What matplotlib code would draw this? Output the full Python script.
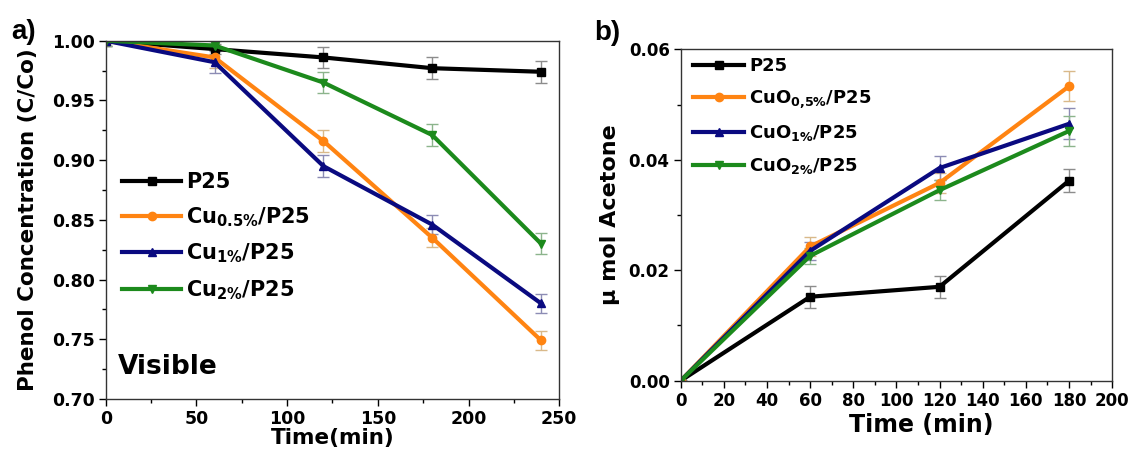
import numpy as np
import matplotlib
matplotlib.use("Agg")
import matplotlib.pyplot as plt
from matplotlib.ticker import MultipleLocator

# ── Fonts ────────────────────────────────────────────────────────
plt.rcParams["font.family"] = ["DejaVu Sans"]
plt.rcParams["font.weight"] = "bold"
plt.rcParams["mathtext.fontset"] = "dejavusans"
plt.rcParams["mathtext.default"] = "bf"

# ── Phenol degradation under visible light (panel a) ─────────────
time_a = [0, 60, 120, 180, 240]
p25_a = [1.000, 0.993, 0.986, 0.977, 0.974]
cu05_a = [1.000, 0.986, 0.916, 0.835, 0.749]
cu1_a = [1.000, 0.982, 0.895, 0.846, 0.780]
cu2_a = [1.000, 0.996, 0.965, 0.921, 0.830]
p25_a_err = [0.004, 0.004, 0.009, 0.009, 0.009]
cu05_a_err = [0.004, 0.009, 0.009, 0.008, 0.008]
cu1_a_err = [0.004, 0.009, 0.009, 0.008, 0.008]
cu2_a_err = [0.004, 0.004, 0.009, 0.009, 0.009]
labels_a = ["P25", r"Cu$_{0.5\%}$/P25", r"Cu$_{1\%}$/P25", r"Cu$_{2\%}$/P25"]

# ── Acetone evolution (panel b) ──────────────────────────────────
time_b = [0, 60, 120, 180]
p25_b = [0.0, 0.0152, 0.0170, 0.0362]
cuo05_b = [0.0, 0.0243, 0.0358, 0.0533]
cuo1_b = [0.0, 0.0235, 0.0385, 0.0465]
cuo2_b = [0.0, 0.0226, 0.0345, 0.0452]
p25_b_err = [0.0, 0.0020, 0.0020, 0.0021]
cuo05_b_err = [0.0, 0.0017, 0.0018, 0.0027]
cuo1_b_err = [0.0, 0.0017, 0.0022, 0.0028]
cuo2_b_err = [0.0, 0.0015, 0.0018, 0.0027]
labels_b = ["P25", r"CuO$_{0{,}5\%}$/P25", r"CuO$_{1\%}$/P25",
            r"CuO$_{2\%}$/P25"]

colors = ["#000000", "#ff8412", "#0a0a80", "#1c8a1c"]
err_colors = ["#8c8c8c", "#d9b98a", "#8c8cb4", "#8cb48c"]
markers = ["s", "o", "^", "v"]

fig = plt.figure(figsize=(11.28, 4.53), dpi=100)
ax_a = fig.add_axes([0.0937, 0.1192, 0.4021, 0.7909])
ax_b = fig.add_axes([0.6035, 0.1596, 0.3824, 0.7316])


def draw_series(ax, x, ys, errs):
    # errorbar per series; return only the data lines for the legend
    handles = []
    for y, e, c, ec, m in zip(ys, errs, colors, err_colors, markers):
        cont = ax.errorbar(x, y, yerr=e, color=c, ecolor=ec, elinewidth=1.0,
                           capsize=4, capthick=1.0, marker=m, markersize=6,
                           linewidth=3)
        handles.append(cont[0])
    return handles


def style_axes(ax, size):
    for sp in ax.spines.values():
        sp.set_linewidth(1.0)
        sp.set_color("#333333")
    ax.tick_params(which="major", direction="out", length=5, width=1.0,
                   labelsize=size, pad=3, top=False, right=False)
    ax.tick_params(which="minor", direction="out", length=3, width=1.0,
                   top=False, right=False)
    for lab in ax.get_xticklabels() + ax.get_yticklabels():
        lab.set_fontweight("bold")


# panel a
h_a = draw_series(ax_a, time_a, [p25_a, cu05_a, cu1_a, cu2_a],
                  [p25_a_err, cu05_a_err, cu1_a_err, cu2_a_err])
ax_a.set_xlim(0, 250)
ax_a.set_ylim(0.70, 1.00)
ax_a.xaxis.set_major_locator(MultipleLocator(50))
ax_a.xaxis.set_minor_locator(MultipleLocator(25))
ax_a.yaxis.set_major_locator(MultipleLocator(0.05))
ax_a.yaxis.set_minor_locator(MultipleLocator(0.025))
ax_a.yaxis.set_major_formatter(lambda v, p: f"{v:.2f}")
style_axes(ax_a, 12.5)
ax_a.set_xlabel("Time(min)", fontsize=15.5, fontweight="bold", labelpad=0)
ax_a.set_ylabel("Phenol Concentration (C/Co)", fontsize=15.5,
                fontweight="bold", labelpad=10)
ax_a.text(0.027, 0.07, "Visible", transform=ax_a.transAxes, fontsize=19,
          fontweight="bold", ha="left", va="baseline")
ax_a.legend(h_a, labels_a, loc="upper left", bbox_to_anchor=(0.0, 0.68),
            frameon=False, fontsize=15, handlelength=2.8, handletextpad=0.25,
            labelspacing=0.62, borderaxespad=0.4)
fig.text(0.010, 0.914, "a)", fontsize=20, fontweight="bold",
         family="Liberation Sans")

# panel b
h_b = draw_series(ax_b, time_b, [p25_b, cuo05_b, cuo1_b, cuo2_b],
                  [p25_b_err, cuo05_b_err, cuo1_b_err, cuo2_b_err])
ax_b.set_xlim(0, 200)
ax_b.set_ylim(0.0, 0.06)
ax_b.xaxis.set_major_locator(MultipleLocator(20))
ax_b.xaxis.set_minor_locator(MultipleLocator(10))
ax_b.yaxis.set_major_locator(MultipleLocator(0.02))
ax_b.yaxis.set_minor_locator(MultipleLocator(0.01))
ax_b.yaxis.set_major_formatter(lambda v, p: f"{v:.2f}")
style_axes(ax_b, 12)
ax_b.set_xlabel("Time (min)", fontsize=17, fontweight="bold", labelpad=2,
                x=0.557)
ax_b.set_ylabel("\u03bc mol Acetone", fontsize=16, fontweight="bold",
                labelpad=6)
ax_b.legend(h_b, labels_b, loc="upper left", bbox_to_anchor=(0.0, 1.015),
            frameon=False, fontsize=13, handlelength=2.8, handletextpad=0.3,
            labelspacing=0.72, borderaxespad=0.3)
fig.text(0.527, 0.912, "b)", fontsize=20, fontweight="bold",
         family="Liberation Sans")

fig.savefig("out.png", dpi=100)
